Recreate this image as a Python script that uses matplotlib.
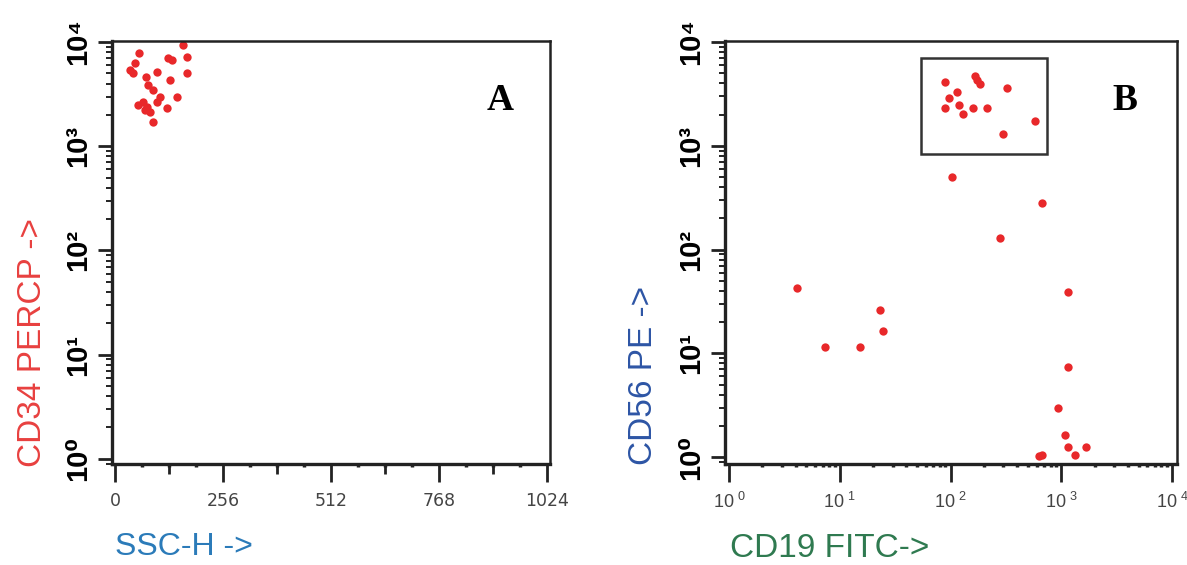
import matplotlib.pyplot as plt
import numpy as np
from matplotlib.patches import Rectangle
from matplotlib.ticker import LogLocator, NullFormatter

plt.rcParams['font.family'] = ['Liberation Sans', 'DejaVu Sans']
plt.rcParams['mathtext.fontset'] = 'custom'
plt.rcParams['mathtext.rm'] = 'Liberation Sans'

# panel A: SSC-H vs CD34 PERCP
ssc_h = [57, 47, 43, 74, 100, 126, 135, 161, 171, 171, 130, 78, 90, 107, 147, 66, 100, 76, 71, 83, 123, 90, 55, 36]
cd34 = [7840, 6280, 5040, 4600, 5150, 7020, 6710, 9350, 7170, 5040, 4310, 3860, 3450, 2960, 2960,
        2650, 2650, 2370, 2220, 2120, 2320, 1700, 2480, 5380]

# panel B: CD19 FITC vs CD56 PE
cd19 = [89, 115, 97, 89, 119, 130, 160, 214, 166, 173, 185, 324, 298, 580,
        103, 670, 280, 4.1, 7.4, 15.2, 23.1, 24.6, 1150, 1150, 935, 1082, 1150, 1674, 1331, 670, 630]
cd56 = [4115, 3300, 2885, 2310, 2470, 2023, 2310, 2310, 4700, 4305, 3940, 3605, 1298, 1733,
        500, 281, 129, 42.6, 11.5, 11.5, 26.1, 16.4, 38.9, 7.4, 2.97, 1.63, 1.25, 1.25, 1.04, 1.04, 1.02]
gate_x = [54, 740]
gate_y = [832, 7010]

y_ticks = [1, 10, 100, 1000, 10000]
y_labels = ['10⁰', '10¹', '10²', '10³', '10⁴']
ssc_ticks = [0, 256, 512, 768, 1024]
log_x_labels = [r'$10^{\ %d}$' % i for i in range(5)]

dot_color = '#e8282a'

fig = plt.figure(figsize=(11.87, 5.65), dpi=100)
axA = fig.add_axes([112 / 1187, 101 / 565, 438 / 1187, 423 / 565])
axB = fig.add_axes([725 / 1187, 101 / 565, 452 / 1187, 423 / 565])

for ax in [axA, axB]:
    ax.set_yscale('log')
    ax.set_yticks(y_ticks)
    ax.set_yticklabels(y_labels, rotation=90, va='center', fontsize=21, fontweight='bold')
    ax.yaxis.set_minor_locator(LogLocator(base=10, subs=np.arange(2, 10), numticks=20))
    ax.yaxis.set_minor_formatter(NullFormatter())
    ax.tick_params(axis='y', which='major', length=10, width=2.0, pad=4, color='#222222')
    ax.tick_params(axis='y', which='minor', length=4.5, width=1.4, color='#222222')
    ax.tick_params(axis='x', which='major', length=13, width=2.0, pad=7, labelsize=12.5,
                   labelcolor='#444444', color='#222222')
    ax.tick_params(axis='x', which='minor', length=2.5, width=2.5, color='#222222')
    for side in ['left', 'bottom']:
        ax.spines[side].set_linewidth(2.4)
    for side in ['top', 'right']:
        ax.spines[side].set_linewidth(1.8)
    for s in ax.spines.values():
        s.set_color('#222222')

# A
axA.plot(ssc_h, cd34, 'o', ms=6, color=dot_color, mec='none')
axA.set_xlim(-7, 1031)
axA.set_ylim(10 ** -0.05, 10 ** 4.01)
axA.set_xticks(ssc_ticks)
axA.set_xticklabels([str(t) for t in ssc_ticks], family='DejaVu Sans')
axA.set_xticks(np.arange(64, 1024, 64), minor=True)
sec = axA.secondary_xaxis('bottom')
sec.set_xticks([128, 384, 640, 896])
sec.set_xticklabels([])
sec.tick_params(length=7, width=2.0, color='#222222')
sec.spines['bottom'].set_visible(False)
axA.text(0.886, 0.86, 'A', transform=axA.transAxes, ha='center', va='center',
         fontsize=27, fontweight='bold', family='Liberation Serif')

# B
axB.set_xscale('log')
axB.plot(cd19, cd56, 'o', ms=6, color=dot_color, mec='none')
axB.add_patch(Rectangle((gate_x[0], gate_y[0]), gate_x[1] - gate_x[0], gate_y[1] - gate_y[0],
                        fill=False, lw=1.8, ec='#333333'))
axB.set_xlim(10 ** -0.036, 10 ** 4.045)
axB.set_ylim(10 ** -0.067, 10 ** 4.01)
axB.set_xticks(y_ticks)
axB.set_xticklabels(log_x_labels, fontsize=13)
axB.xaxis.set_minor_locator(LogLocator(base=10, subs=np.arange(2, 10), numticks=20))
axB.xaxis.set_minor_formatter(NullFormatter())
axB.text(0.885, 0.86, 'B', transform=axB.transAxes, ha='center', va='center',
         fontsize=27, fontweight='bold', family='Liberation Serif')

# axis titles
fig.text(33 / 1187, (565 - 467) / 565, 'CD34 PERCP ->', rotation=90, ha='center', va='bottom',
         fontsize=24, color='#e8403f')
fig.text(115 / 1187, (565 - 555) / 565, 'SSC-H ->', ha='left', va='baseline',
         fontsize=23, color='#2b7bb9')
fig.text(643 / 1187, (565 - 465) / 565, 'CD56 PE ->', rotation=90, ha='center', va='bottom',
         fontsize=24, color='#2d55a5')
fig.text(730 / 1187, (565 - 557) / 565, 'CD19 FITC->', ha='left', va='baseline',
         fontsize=24, color='#2f7a50')

fig.savefig('out.png', dpi=100)
